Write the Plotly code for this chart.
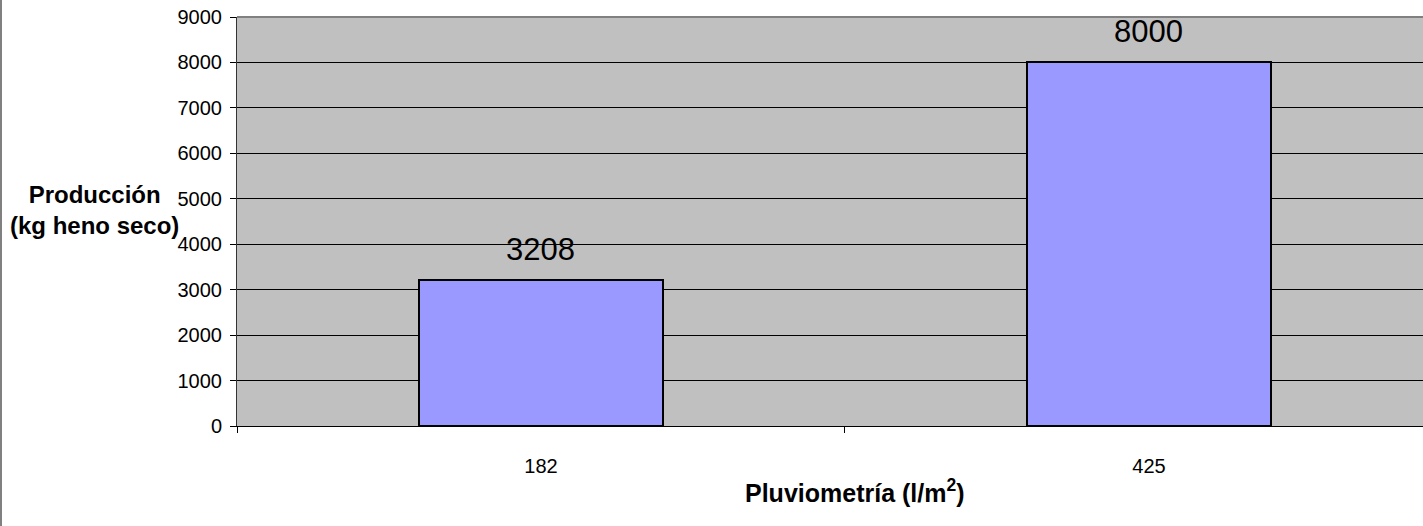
import plotly.graph_objects as go

categories = ["182", "425"]
values = [3208, 8000]
labels = ["3208", "8000"]
y_ticks = [0, 1000, 2000, 3000, 4000, 5000, 6000, 7000, 8000, 9000]

FONT = "Liberation Sans, Arial, sans-serif"

fig = go.Figure()
fig.add_trace(go.Bar(
    x=categories, y=values, width=0.4,
    marker=dict(color="#9999FF", line=dict(color="black", width=2)),
))

# data labels: x given as the category index on the categorical axis
for i, (v, t) in enumerate(zip(values, labels)):
    fig.add_annotation(x=i, y=v, xref="x", yref="y", text=t, showarrow=False,
                       yanchor="middle", yshift=31,
                       font=dict(family=FONT, size=31, color="black"))

fig.update_layout(
    width=1423, height=526,
    margin=dict(l=237, r=0, t=17, b=100),
    paper_bgcolor="white", plot_bgcolor="#C0C0C0",
    showlegend=False,
    font=dict(family=FONT, size=20, color="black"),
    bargap=0,
)
fig.update_xaxes(
    type="category", range=[-0.5, 1.4507],
    tickson="boundaries", ticks="outside", ticklen=6, tickcolor="black",
    showgrid=False, showline=True, linecolor="black", linewidth=1,
    tickfont=dict(size=20), ticklabelstandoff=22,
)
fig.update_yaxes(
    range=[0, 9000], tickvals=y_ticks,
    ticks="outside", ticklen=6, tickcolor="black",
    showgrid=True, gridcolor="black", gridwidth=1,
    showline=True, linecolor="#333333", linewidth=1,
    zeroline=False, tickfont=dict(size=20), ticklabelstandoff=4,
)
# top border (gray) of plot area
fig.add_shape(type="line", xref="paper", yref="paper", x0=0, x1=1, y0=1, y1=1,
              line=dict(color="#808080", width=2))
# left chart border
fig.add_shape(type="line", xref="paper", yref="paper", x0=-236/1186, x1=-236/1186,
              y0=-100/409, y1=1 + 17/409, line=dict(color="#808080", width=2))

fig.add_annotation(text="<b>Producción<br>(kg heno seco)</b>", xref="paper", yref="paper",
                   x=-0.1205, y=0.528, showarrow=False, align="center",
                   font=dict(size=24, family=FONT), xanchor="center", yanchor="middle")
fig.add_annotation(text="<b>Pluviometría (l/m<sup>2</sup>)</b>", x=(855 - 237) / 1186, xref="paper",
                   yref="paper", y=-0.16, showarrow=False, yanchor="middle", xanchor="center",
                   font=dict(size=25, family=FONT))

fig.write_html(
    "out.html",
    config={"displayModeBar": False},
    post_script="document.body.style.margin='0';document.body.style.overflow='hidden';",
)
